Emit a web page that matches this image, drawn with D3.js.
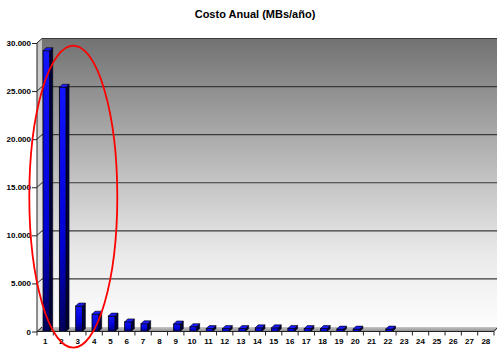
<!DOCTYPE html>
<html>
<head>
<meta charset="utf-8">
<script src="https://cdn.jsdelivr.net/npm/d3@7"></script>
<style>
  html, body { margin: 0; padding: 0; background: #fff; }
  svg { display: block; }
  text { font-family: "Liberation Sans", Arial, sans-serif; font-weight: bold; fill: #000; }
</style>
</head>
<body>
<svg id="chart" width="497" height="351"></svg>
<script>
// Annual cost per item (MBs/año)
const categories = d3.range(1, 29);
const values = [29200, 25400, 2650, 1800, 1600, 1000, 800, 0, 780, 500,
                300, 300, 300, 380, 380, 320, 300, 300, 250, 250,
                0, 250, 0, 0, 0, 0, 0, 0];
const yTicks = [0, 5000, 10000, 15000, 20000, 25000, 30000];
const title = "Costo Anual (MBs/año)";

const W = 497, H = 351;
const plotLeft = 37, plotRight = 494, plotTop = 43, plotBottom = 331.5;
const depthX = 5, depthY = -4.5;     // wall offset behind the axis plane
const barDX = 3, barDY = -3;         // bar depth

const svg = d3.select("#chart");
const defs = svg.append("defs");

const x = d3.scaleBand().domain(categories).range([plotLeft, plotRight]).padding(0);
const y = d3.scaleLinear().domain([0, 30000]).range([plotBottom, plotTop]);

const locale = d3.formatLocale({ decimal: ",", thousands: ".", grouping: [3], currency: ["", ""] });
const fmt = locale.format(",.0f");

// gradients
const wallGrad = defs.append("linearGradient").attr("id", "wall")
  .attr("x1", 0).attr("y1", 0).attr("x2", 0).attr("y2", 1);
wallGrad.append("stop").attr("offset", "0%").attr("stop-color", "#727272");
wallGrad.append("stop").attr("offset", "45%").attr("stop-color", "#bdbdbd");
wallGrad.append("stop").attr("offset", "75%").attr("stop-color", "#eaeaea");
wallGrad.append("stop").attr("offset", "100%").attr("stop-color", "#fdfdfd");

const sideGrad = defs.append("linearGradient").attr("id", "side")
  .attr("x1", 0).attr("y1", 0).attr("x2", 0).attr("y2", 1);
sideGrad.append("stop").attr("offset", "0%").attr("stop-color", "#c4c4c4");
sideGrad.append("stop").attr("offset", "100%").attr("stop-color", "#f4f4f4");

const floorGrad = defs.append("linearGradient").attr("id", "floor")
  .attr("x1", 0).attr("y1", 0).attr("x2", 0).attr("y2", 1);
floorGrad.append("stop").attr("offset", "0%").attr("stop-color", "#c8c8c8");
floorGrad.append("stop").attr("offset", "100%").attr("stop-color", "#8c8c8c");

// bar front: bright blue at the top, deep navy at the base
const frontGrad = defs.append("linearGradient").attr("id", "barFront")
  .attr("x1", 0).attr("y1", 0).attr("x2", 0).attr("y2", 1);
frontGrad.append("stop").attr("offset", "0%").attr("stop-color", "#1414ff");
frontGrad.append("stop").attr("offset", "65%").attr("stop-color", "#0000d0");
frontGrad.append("stop").attr("offset", "100%").attr("stop-color", "#000058");

// title
svg.append("text").attr("x", 255).attr("y", 18)
  .attr("text-anchor", "middle").style("font-size", "11px").text(title);

// back wall
svg.append("rect")
  .attr("x", plotLeft + depthX).attr("y", plotTop + depthY)
  .attr("width", W - (plotLeft + depthX) + 2).attr("height", plotBottom - plotTop)
  .attr("fill", "url(#wall)");

// side wall
svg.append("path")
  .attr("d", `M${plotLeft},${plotTop} L${plotLeft + depthX},${plotTop + depthY} L${plotLeft + depthX},${plotBottom + depthY} L${plotLeft},${plotBottom} Z`)
  .attr("fill", "url(#side)");

// floor
svg.append("path")
  .attr("d", `M${plotLeft},${plotBottom} L${plotLeft + depthX},${plotBottom + depthY} L${plotRight + depthX},${plotBottom + depthY} L${plotRight},${plotBottom} Z`)
  .attr("fill", "url(#floor)");

// gridlines on the wall
svg.append("g").selectAll("line").data(yTicks.filter(t => t > 0)).join("line")
  .attr("x1", plotLeft + depthX).attr("x2", W)
  .attr("y1", d => y(d) + depthY).attr("y2", d => y(d) + depthY)
  .attr("stroke", "#3a3a3a").attr("stroke-width", 1.2);

// connector strokes from axis ticks to the wall
svg.append("g").selectAll("line").data(yTicks).join("line")
  .attr("x1", plotLeft).attr("x2", plotLeft + depthX)
  .attr("y1", d => y(d)).attr("y2", d => y(d) + depthY)
  .attr("stroke", "#222").attr("stroke-width", 1);

// bars
const bw = x.bandwidth();
const bars = svg.append("g").selectAll("g").data(categories.map((c, i) => ({ c, v: values[i] })))
  .join("g");
bars.each(function (d) {
  if (d.v <= 0) return;
  const g = d3.select(this);
  const x0 = x(d.c) + bw * 0.37;
  const w = bw * 0.41;
  const yt = y(d.v), yb = y(0);
  // side face
  g.append("path")
    .attr("d", `M${x0 + w},${yt} L${x0 + w + barDX},${yt + barDY} L${x0 + w + barDX},${yb + barDY} L${x0 + w},${yb} Z`)
    .attr("fill", "#00003c").attr("stroke", "#000").attr("stroke-width", 0.6);
  // front face
  g.append("rect").attr("x", x0).attr("y", yt).attr("width", w).attr("height", Math.max(yb - yt, 0.8))
    .attr("fill", "url(#barFront)").attr("stroke", "#000").attr("stroke-width", 0.8);
  // top face
  g.append("path")
    .attr("d", `M${x0},${yt} L${x0 + barDX},${yt + barDY} L${x0 + w + barDX},${yt + barDY} L${x0 + w},${yt} Z`)
    .attr("fill", "#1a1aff").attr("stroke", "#000").attr("stroke-width", 0.6);
});

// y axis
const yAxis = d3.axisLeft(y).tickValues(yTicks).tickFormat(fmt).tickSize(5).tickPadding(1);
const gy = svg.append("g").attr("transform", `translate(${plotLeft},0)`).call(yAxis);
gy.select(".domain").attr("stroke", "#222").attr("d", `M0,${plotTop}V${plotBottom}`);
gy.selectAll(".tick line").attr("stroke", "#222");
gy.selectAll("text").style("font-size", "8px").style("font-family", "'Liberation Sans', Arial, sans-serif").style("font-weight", "bold");

// x axis
const xAxis = d3.axisBottom(x).tickSize(0).tickPadding(7);
const gx = svg.append("g").attr("transform", `translate(0,${plotBottom})`).call(xAxis);
gx.select(".domain").attr("stroke", "#222").attr("d", `M${plotLeft},0H${plotRight}l${depthX - 2},${depthY + 1}`);
gx.selectAll("text").style("font-size", "8px").style("font-family", "'Liberation Sans', Arial, sans-serif").style("font-weight", "bold");

// category separators on the x axis
const bounds = categories.map(c => x(c)).concat([plotRight]);
gx.append("g").selectAll("line").data(bounds).join("line")
  .attr("x1", d => d).attr("x2", d => d).attr("y1", 0).attr("y2", 4)
  .attr("stroke", "#222");

// highlight ring around the leading items
svg.append("ellipse")
  .attr("cx", x(3) + bw / 2 - 4.5).attr("cy", 196.7)
  .attr("rx", 44).attr("ry", 151)
  .attr("fill", "none").attr("stroke", "#ff0000").attr("stroke-width", 1.8);
</script>
</body>
</html>
